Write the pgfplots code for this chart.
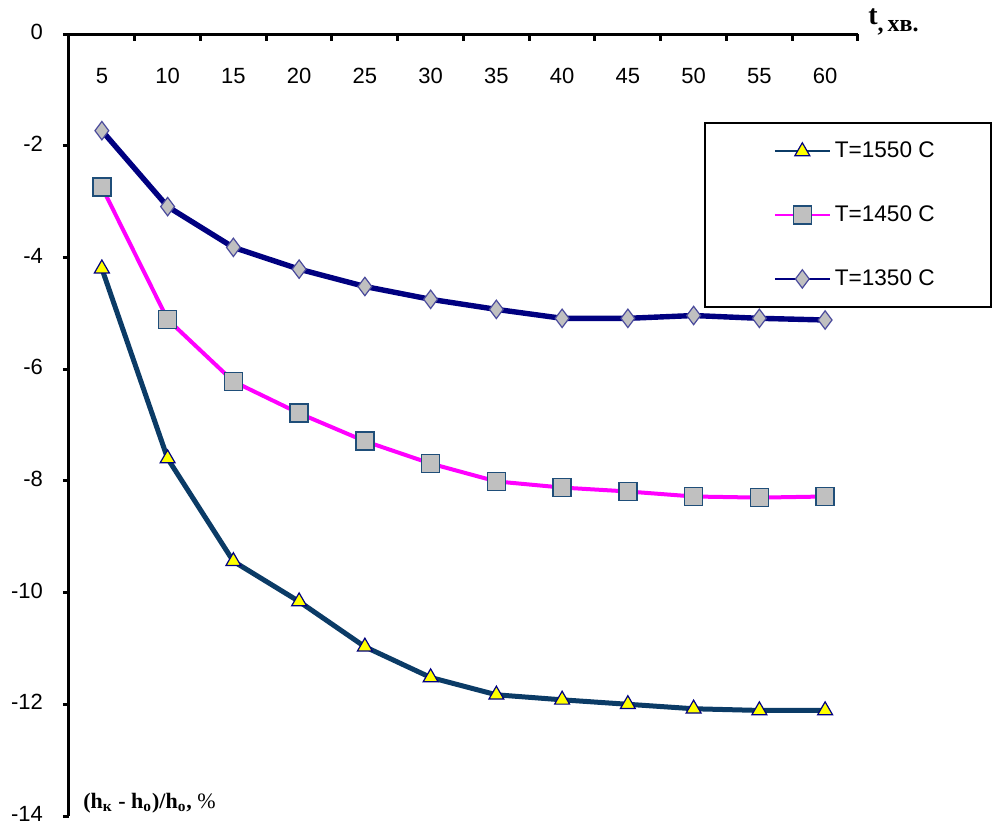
\documentclass[border=0pt]{standalone}
\usepackage{pgfplots}
\pgfplotsset{compat=1.18}
\usepackage{fontspec}
\setmainfont{Liberation Sans}
\newfontfamily\serifbf{Liberation Serif}

\definecolor{cNavy}{HTML}{000080}
\definecolor{cMagenta}{HTML}{FF00FF}
\definecolor{cDeep}{HTML}{0B3B66}
\definecolor{cGrey}{HTML}{C0C0C0}
\definecolor{cYellow}{HTML}{FFFF00}
\definecolor{cEdge}{HTML}{1F4E79}
\definecolor{cDiaEdge}{HTML}{4A4A9C}

% relative thickness change: (h_k - h_0)/h_0, % versus time, min
\pgfplotstableread{
t     v
5    -4.20
10   -7.60
15   -9.44
20  -10.16
25  -10.97
30  -11.52
35  -11.83
40  -11.92
45  -12.00
50  -12.08
55  -12.11
60  -12.11
}\tabA
\pgfplotstableread{
t     v
5    -2.74
10   -5.11
15   -6.22
20   -6.79
25   -7.29
30   -7.69
35   -8.01
40   -8.12
45   -8.19
50   -8.28
55   -8.30
60   -8.28
}\tabB
\pgfplotstableread{
t     v
5    -1.73
10   -3.09
15   -3.82
20   -4.21
25   -4.52
30   -4.75
35   -4.93
40   -5.09
45   -5.09
50   -5.04
55   -5.09
60   -5.12
}\tabC

\begin{document}
\begin{tikzpicture}
\useasboundingbox (0,0) rectangle (497.5pt,-412.5pt);
\begin{axis}[
  at={(34.5pt,-17pt)}, anchor=north west,
  scale only axis,
  width=394.5pt, height=391pt,
  xmin=2.5, xmax=62.5, ymin=-14, ymax=0,
  axis x line*=top, axis y line*=left,
  axis line style={line width=1.5pt, -},
  xtick={5,10,...,60},
  major x tick style={draw=none},
  minor xtick={2.5,7.5,...,62.5},
  minor tick length=3.5pt,
  xtick align=inside,
  minor x tick style={line width=1.5pt, black},
  ytick={0,-2,...,-14},
  ytick align=outside,
  major tick length=3pt,
  major y tick style={line width=1.5pt, black},
  tick label style={font=\fontsize{11}{13}\selectfont},
  /pgf/number format/assume math mode=true,
  xticklabel style={anchor=north, yshift=-13.5pt},
  yticklabel style={anchor=east, xshift=-6.5pt, yshift=1pt, inner ysep=0pt},
  legend style={at={(0.805,0.8875)}, anchor=north west,
    draw=black, line width=1pt,
    font=\fontsize{11.3}{13}\selectfont,
    inner xsep=26pt, inner ysep=7.5pt, row sep=18.5pt,
    /tikz/every even column/.append style={column sep=2pt}},
  legend cell align=left,
  legend image code/.code={%
    \path (0pt,0pt);
    \draw[mark repeat=2, mark phase=2, line width=1pt]
      plot coordinates {(7.5pt,0pt) (21.25pt,0pt) (35pt,0pt)};},
]
\addplot[color=cDeep, line width=2.5pt,
  mark=triangle*, mark size=4.3pt,
  mark options={fill=cYellow, draw=cNavy, line width=0.6pt, solid}]
  table[x=t, y=v] {\tabA};
\addlegendentry{T=1550 C}
\addplot[color=cMagenta, line width=2pt,
  mark=square*, mark size=4.5pt,
  mark options={fill=cGrey, draw=cEdge, line width=0.8pt, solid}]
  table[x=t, y=v] {\tabB};
\addlegendentry{T=1450 C}
\addplot[color=cNavy, line width=2.7pt,
  mark=diamond*, mark size=4.6pt,
  mark options={fill=cGrey, draw=cDiaEdge, line width=0.6pt, solid}]
  table[x=t, y=v] {\tabC};
\addlegendentry{T=1350 C}
\end{axis}
% axis titles
\node[anchor=west, inner sep=0pt, font=\serifbf\bfseries\fontsize{14}{15}\selectfont]
  at (434pt,-11pt) {t\raisebox{-3.5pt}{\fontsize{12}{13}\selectfont,\,хв.}};
\node[anchor=base west, inner sep=0pt, font=\serifbf\bfseries\fontsize{11}{13}\selectfont]
  at (41.5pt,-404pt) {(h\textsubscript{к} - h\textsubscript{о})/h\textsubscript{о}, {\mdseries\%}};
\end{tikzpicture}
\end{document}
